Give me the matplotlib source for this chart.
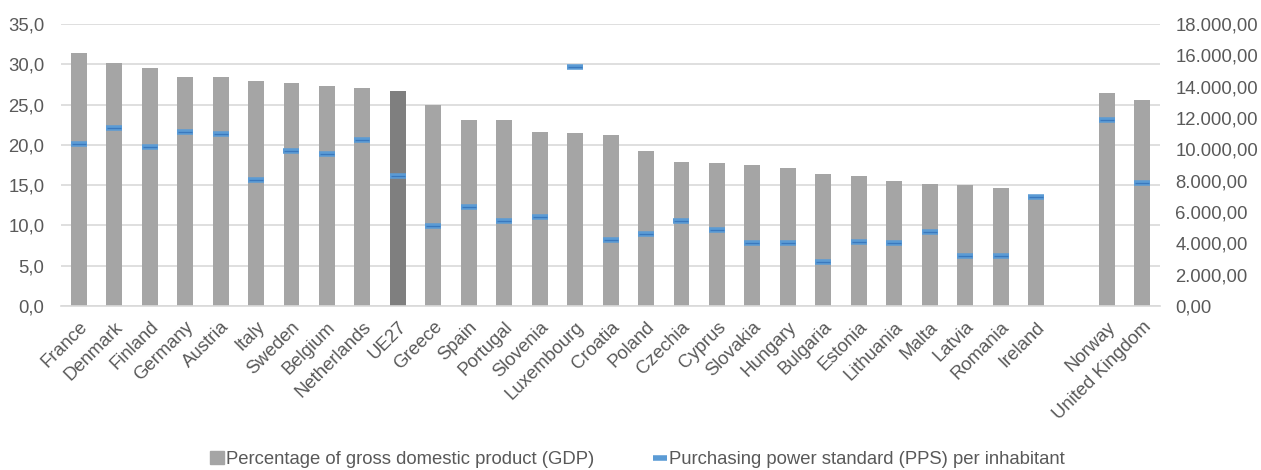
import numpy as np
import matplotlib.pyplot as plt
from matplotlib.ticker import FuncFormatter
from matplotlib.lines import Line2D
from matplotlib.patches import Patch

plt.rcParams['font.family'] = ['Liberation Sans', 'DejaVu Sans']

# countries (empty slot separates EU members from Norway / UK)
countries = ['France', 'Denmark', 'Finland', 'Germany', 'Austria', 'Italy', 'Sweden',
             'Belgium', 'Netherlands', 'UE27', 'Greece', 'Spain', 'Portugal', 'Slovenia',
             'Luxembourg', 'Croatia', 'Poland', 'Czechia', 'Cyprus', 'Slovakia', 'Hungary',
             'Bulgaria', 'Estonia', 'Lithuania', 'Malta', 'Latvia', 'Romania', 'Ireland',
             '', 'Norway', 'United Kingdom']

# social protection expenditure, % of GDP
gdp_pct = [31.4, 30.1, 29.5, 28.4, 28.4, 27.9, 27.7, 27.3, 27.1, 26.7, 25.0, 23.1, 23.1,
           21.6, 21.5, 21.2, 19.2, 17.9, 17.7, 17.5, 17.1, 16.4, 16.1, 15.5, 15.2, 15.0,
           14.7, 13.7, np.nan, 26.4, 25.6]

# PPS per inhabitant
pps = [10320, 11340, 10150, 11085, 10960, 8040, 9915, 9720, 10575, 8320, 5105, 6320,
       5450, 5680, 15235, 4190, 4575, 5405, 4850, 4000, 4000, 2810, 4085, 4045, 4700,
       3215, 3170, 6955, np.nan, 11850, 7850]

x = np.arange(len(countries))
bar_colors = ['#7F7F7F' if c == 'UE27' else '#A5A5A5' for c in countries]
txt = '#595959'
fs = 13.3

fig = plt.figure(figsize=(12.61, 4.70), dpi=100)
ax = fig.add_axes([0.0484, 0.349, 0.8716, 0.600])
ax2 = ax.twinx()

ax.bar(x, gdp_pct, width=0.45, color=bar_colors, zorder=2)
ax.set_ylim(0, 35)
ax.set_yticks(np.arange(0, 36, 5))
ax.yaxis.set_major_formatter(FuncFormatter(lambda v, p: f'{v:.1f}'.replace('.', ',')))
ax.grid(axis='y', color='#D9D9D9', lw=1.2, zorder=0)
ax.set_axisbelow(True)
ax.set_xlim(-0.5, len(countries) - 0.5)
ax.set_xticks(x)
ax.set_xticklabels(countries, rotation=45, ha='right', rotation_mode='anchor')

ax2.plot(x, pps, ls='none', marker='_', markersize=12, mew=4, color='#5B9BD5', zorder=3)
ax2.plot(x, pps, ls='none', marker='_', markersize=10, mew=0.9, color='#3A78BD', zorder=4)
ax2.set_ylim(0, 18000)
ax2.set_yticks(np.arange(0, 18001, 2000))


def de_fmt(v, p):
    s = f'{v:,.2f}'
    return s.replace(',', 'X').replace('.', ',').replace('X', '.')


ax2.yaxis.set_major_formatter(FuncFormatter(de_fmt))

for a in (ax, ax2):
    for s in a.spines.values():
        s.set_visible(False)
    a.tick_params(length=0, labelsize=fs, labelcolor=txt)
ax.spines['bottom'].set_visible(True)
ax.spines['bottom'].set_color('#D9D9D9')
ax.spines['bottom'].set_linewidth(1.2)
ax.tick_params(axis='x', pad=9)
ax.tick_params(axis='y', pad=12)
ax2.tick_params(axis='y', pad=11)

handles = [Patch(color='#A5A5A5'),
           Line2D([], [], ls='none', marker='_', markersize=10, mew=4, color='#5B9BD5')]
labels = ['Percentage of gross domestic product (GDP)',
          'Purchasing power standard (PPS) per inhabitant']
fig.legend(handles, labels, loc='center', bbox_to_anchor=(0.5055, 0.022), ncol=2,
           frameon=False, fontsize=fs, labelcolor=txt, handlelength=0.75,
           handletextpad=0.1, columnspacing=3.2, handleheight=0.7,
           borderpad=0, borderaxespad=0)

fig.savefig('out.png', dpi=100)
